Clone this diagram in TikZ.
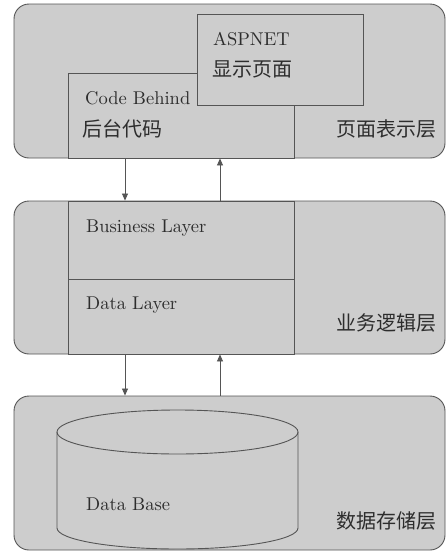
\documentclass[tikz,border=0pt]{standalone}
\usepackage{fontspec}
\setmainfont{lmroman10-regular}[Extension=.otf]
\newfontfamily\zhfont{Noto Sans CJK SC}
\usetikzlibrary{positioning,calc}
\usetikzlibrary{arrows.meta}
\definecolor{TierGray}{RGB}{205,205,205}
\definecolor{InkGray}{RGB}{85,85,85}
\definecolor{TextGray}{RGB}{45,45,45}
\tikzset{
  layer/.style={draw=InkGray,fill=TierGray,rounded corners=15pt,line width=0.9pt},
  pane/.style={draw=InkGray,fill=TierGray,line width=0.9pt},
  txt/.style={anchor=base west,inner sep=0pt,text=TextGray,font=\fontsize{18.5}{22}\selectfont},
  zh/.style={anchor=base west,inner sep=0pt,text=TextGray,font=\zhfont\fontsize{20}{24}\selectfont},
  tier/.style={anchor=base east,inner sep=0pt,text=TextGray,font=\zhfont\fontsize{20}{24}\selectfont},
  flow/.style={draw=InkGray,line width=0.8pt,-{Triangle[length=7pt,width=6pt]}},
}

\begin{document}
\begin{tikzpicture}[x=1pt,y=-1pt]
    \useasboundingbox[fill=white] (0,0) rectangle (447,552);
    % three tiers
    \node[layer,minimum width=431pt,minimum height=154pt] (pres) at (229.5,81) {};
    \node[layer,minimum width=431pt,minimum height=153pt] (logic) at (229.5,277.5) {};
    \node[layer,minimum width=431pt,minimum height=154pt] (store) at (229.5,473) {};
    % presentation tier
    \node[pane,minimum width=226pt,minimum height=85pt] (code) at (181,115.5) {};
    \node[pane,minimum width=166pt,minimum height=91pt] (aspx) at (280,59.5) {};
    \node[txt] (aspxname) at (213,45) {ASPNET};
    \node[zh] (aspxzh) at (212,76) {显示页面};
    \node[txt] (codename) at (85,104) {Code Behind};
    \node[zh] (codezh) at (82,136) {后台代码};
    \node[tier] (prestxt) at (437,136) {页面表示层};
    % logic tier
    \node[pane,minimum width=226pt,minimum height=78pt] (biz) at (181,240) {};
    \node[pane,minimum width=226pt,minimum height=75pt] (dal) at (181,316.5) {};
    \node[txt] (bizname) at (86,232) {Business Layer};
    \node[txt] (dalname) at (86,309) {Data Layer};
    \node[tier] (logictxt) at (437,330) {业务逻辑层};
    % storage tier: the database drum
    \filldraw[draw=InkGray,fill=TierGray,line width=0.9pt]
      (57,432) -- (57,528) arc[start angle=180,end angle=0,x radius=120.5,y radius=21]
      -- (298,432) arc[start angle=0,end angle=-180,x radius=120.5,y radius=22] -- cycle;
    \draw[InkGray,line width=0.9pt] (57,432) arc[start angle=180,end angle=0,x radius=120.5,y radius=22];
    \node[txt] (dbname) at (86,510) {Data Base};
    \node[tier] (storetxt) at (437,528) {数据存储层};
    % requests down, results up
    \coordinate (dn) at (125,0);
    \coordinate (up) at (220,0);
    \draw[flow] (pres.south -| dn) -- (logic.north -| dn);
    \draw[flow] (logic.north -| up) -- (pres.south -| up);
    \draw[flow] (logic.south -| dn) -- (store.north -| dn);
    \draw[flow] (store.north -| up) -- (logic.south -| up);
  \end{tikzpicture}
\end{document}
